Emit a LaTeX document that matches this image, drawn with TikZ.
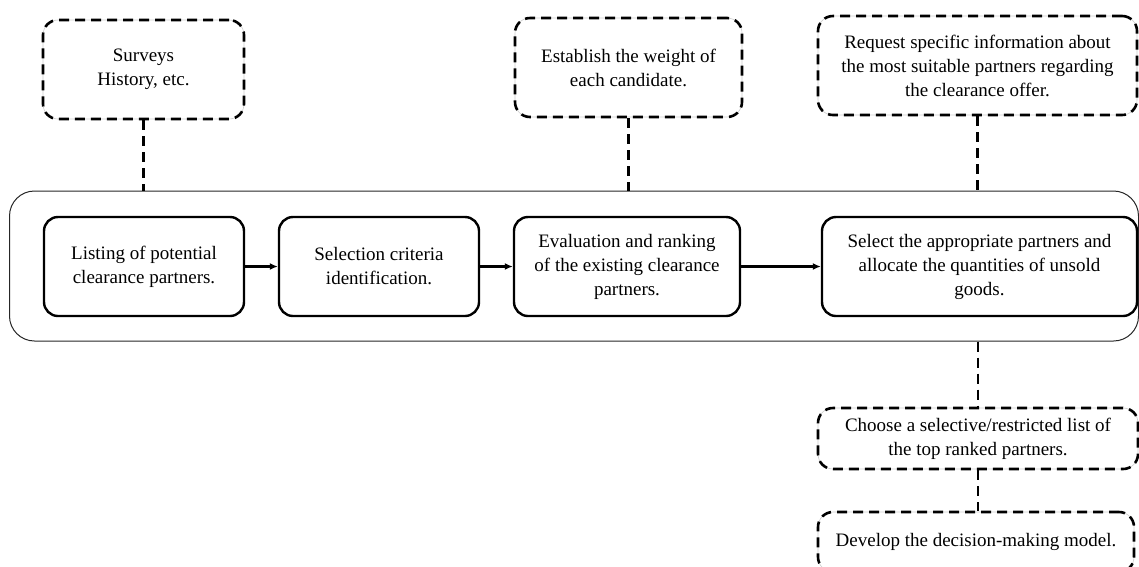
\documentclass[tikz,border=0pt]{standalone}
\usepackage{fontspec}
\setmainfont{Liberation Serif}
\usetikzlibrary{arrows.meta}
\tikzset{
  txt/.style={align=center, font=\fontsize{19}{24}\selectfont, inner sep=0pt},
  dashbox/.style={txt, draw=black, line width=2.6pt, dash pattern=on 10pt off 6pt,
    rounded corners=15pt, rectangle,
    preaction={draw=black!20, line width=0.6pt, solid}},
  solidbox/.style={txt, draw=black, line width=2.4pt, rounded corners=14pt, rectangle},
  container/.style={draw=black!85, line width=1pt, rounded corners=25pt, rectangle, inner sep=0pt},
  conn/.style={draw=black, line width=2.6pt, dash pattern=on 10pt off 6pt},
  flow/.style={draw=black, line width=2.2pt, -{Latex[length=8pt,width=7pt]}}
}
\begin{document}
\begin{tikzpicture}[x=1pt,y=-1pt]
\useasboundingbox (0,0) rectangle (1139,566);
\clip (0,0) rectangle (1139,566);
% container
\node[container, minimum width=1129pt, minimum height=150pt] (cont) at (574,266) {};
% top dashed boxes
\node[dashbox, minimum width=201pt, minimum height=99pt] (surv) at (143.5,69.5) {Surveys\\History, etc.};
\node[dashbox, minimum width=227pt, minimum height=99pt] (est) at (628.5,67.5) {Establish the weight of\\each candidate.};
\node[dashbox, minimum width=319pt, minimum height=99pt] (req) at (977.5,65.5) {Request specific information about\\the most suitable partners regarding\\the clearance offer.};
% process boxes
\node[solidbox, minimum width=200pt, minimum height=99pt] (b1) at (144,266.5) {Listing of potential\\clearance partners.};
\node[solidbox, minimum width=200pt, minimum height=99pt] (b2) at (379,266.5) {Selection criteria\\identification.};
\node[solidbox, minimum width=226pt, minimum height=99pt] (b3) at (627,266.5) {Evaluation and ranking\\of the existing clearance\\partners.};
\node[solidbox, minimum width=315pt, minimum height=99pt] (b4) at (979.5,266.5) {Select the appropriate partners and\\allocate the quantities of unsold\\goods.};
% bottom dashed boxes
\node[dashbox, minimum width=320pt, minimum height=61pt] (choose) at (978,438.5) {Choose a selective/restricted list of\\the top ranked partners.};
\node[dashbox, minimum width=316pt, minimum height=60pt] (dev) at (976,542) {Develop the decision-making model.};
% arrows
\draw[flow] (b1.east) -- (b2.west);
\draw[flow] (b2.east) -- (b3.west);
\draw[flow] (b3.east) -- (b4.west);
% dashed connectors
\draw[conn] (surv.south) -- (surv.south |- cont.north);
\draw[conn] (est.south) -- (est.south |- cont.north);
\draw[conn] (req.south) -- (req.south |- cont.north);
\draw[conn] (choose.north |- cont.south) -- (choose.north);
\draw[conn] (choose.south) -- (choose.south |- dev.north);
\end{tikzpicture}
\end{document}
